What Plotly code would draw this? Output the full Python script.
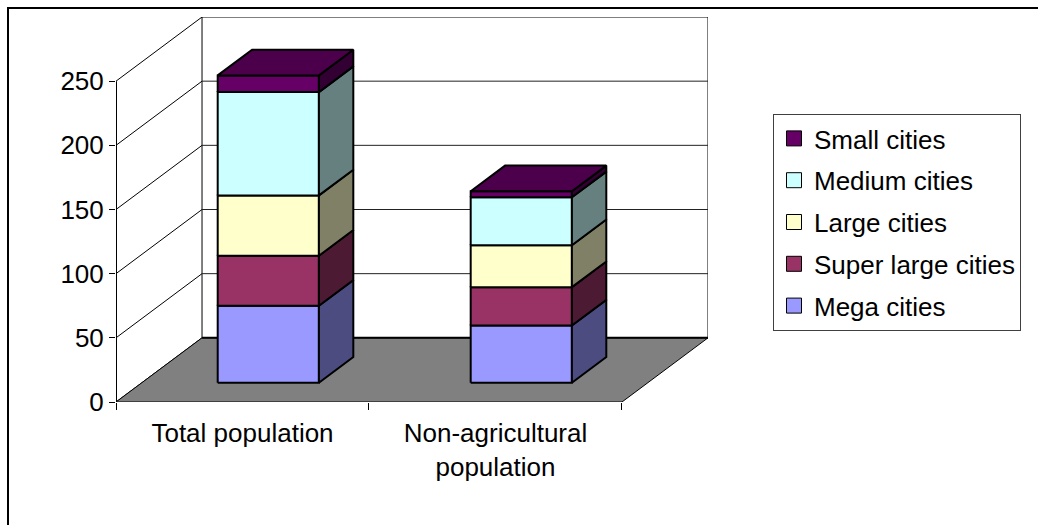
import plotly.graph_objects as go

# Urban population by city size class (millions)
categories = ["Total population", "Non-agricultural<br>population"]
series_names = ["Mega cities", "Super large cities", "Large cities", "Medium cities", "Small cities"]
mega_cities = [60.0, 44.6]
super_large_cities = [39.0, 29.9]
large_cities = [47.0, 32.7]
medium_cities = [80.5, 37.3]
small_cities = [13.0, 4.7]
y_ticks = [0, 50, 100, 150, 200, 250]

series_values = [mega_cities, super_large_cities, large_cities, medium_cities, small_cities]
front_colors = ["#9999FF", "#993366", "#FFFFCC", "#CCFFFF", "#660066"]
side_colors = ["#4C4C80", "#4D1A33", "#808066", "#668080", "#330033"]
top_colors = ["#7373BF", "#73264D", "#BFBF99", "#99BFBF", "#4C004C"]

# Oblique depth vector (in axis units) and bar geometry
DX, DY = 0.34, 50.0
HALF_W = 0.2
F_FRONT, F_BACK = 0.3, 0.7
Y_MAX = 250

# Plot area in pixels
W, H = 1038, 525
L, R, T, B = 116, 330, 17, 123
PW, PH = W - L - R, H - T - B


def px_to_paper(px, py):
    return (px - L) / PW, (H - B - py) / PH


def poly(xs, ys):
    return list(xs) + [xs[0]], list(ys) + [ys[0]]


fig = go.Figure()


def add_poly(xs, ys, fill, line_color="black", width=1):
    px, py = poly(xs, ys)
    fig.add_trace(go.Scatter(
        x=px, y=py, mode="lines", fill="toself", fillcolor=fill,
        line=dict(color=line_color, width=width), hoverinfo="skip",
        showlegend=False,
    ))


def add_line(xs, ys, color="black", width=1):
    fig.add_trace(go.Scatter(
        x=xs, y=ys, mode="lines", line=dict(color=color, width=width),
        hoverinfo="skip", showlegend=False,
    ))


x_left, x_right = -0.5, len(categories) - 0.5

# Back wall
add_poly([x_left + DX, x_right + DX, x_right + DX, x_left + DX],
         [DY, DY, Y_MAX + DY, Y_MAX + DY], "white", width=1)
for v in y_ticks[1:-1]:
    add_line([x_left + DX, x_right + DX], [v + DY, v + DY], color="#222222", width=1)

# Side wall: diagonal grid lines and front axis line
for v in y_ticks:
    add_line([x_left, x_left + DX], [v, v + DY], width=1)
add_line([x_left, x_left], [0, Y_MAX], width=2)

# Floor
add_poly([x_left, x_right, x_right + DX, x_left + DX], [0, 0, DY, DY], "#808080", width=1)
add_line([x_left + DX, x_right + DX], [DY, DY], width=2)

# Stacked 3D bars
for i in range(len(categories)):
    base = 0.0
    n = len(series_values)
    for s in range(n):
        top = base + series_values[s][i]
        x0, x1 = i - HALF_W, i + HALF_W
        fx0, fx1 = x0 + F_FRONT * DX, x1 + F_FRONT * DX
        bx0, bx1 = x0 + F_BACK * DX, x1 + F_BACK * DX
        fb, ft = base + F_FRONT * DY, top + F_FRONT * DY
        bb, bt = base + F_BACK * DY, top + F_BACK * DY
        add_poly([fx0, fx1, fx1, fx0], [fb, fb, ft, ft], front_colors[s], width=2)
        add_poly([fx1, bx1, bx1, fx1], [fb, bb, bt, ft], side_colors[s], width=2)
        if s == n - 1:
            add_poly([fx0, fx1, bx1, bx0], [ft, ft, bt, bt], top_colors[s], width=2)
        base = top

# Legend entries, top of the stack listed first
for s in reversed(range(len(series_names))):
    fig.add_trace(go.Scatter(
        x=[None], y=[None], mode="markers", name=series_names[s],
        legendgroup=series_names[s],
        marker=dict(symbol="square", size=15, color=front_colors[s],
                    line=dict(color="black", width=1)),
    ))

# Category boundary ticks on a second x axis
fig.add_trace(go.Scatter(x=[None], y=[None], xaxis="x2", showlegend=False, hoverinfo="skip"))

font = dict(family="Liberation Sans, Arial, sans-serif", size=26, color="black")

lx, ly = px_to_paper(773, 114)
bx0, by0 = px_to_paper(8, 8)

fig.update_layout(
    width=W, height=H,
    margin=dict(l=L, r=R, t=T, b=B, pad=0),
    paper_bgcolor="white", plot_bgcolor="white",
    font=font,
    template="none",
    xaxis=dict(range=[x_left, x_right + DX], tickvals=list(range(len(categories))),
               ticktext=categories, ticks="", showgrid=False, zeroline=False,
               showline=False, automargin=False, tickfont=font, fixedrange=True,
               ticklabelstandoff=13),
    xaxis2=dict(range=[x_left, x_right + DX], overlaying="x", anchor="y", side="bottom",
                tickvals=[x_left + k for k in range(len(categories) + 1)],
                ticktext=[""] * (len(categories) + 1), ticks="outside", ticklen=7,
                tickcolor="black", tickwidth=1, showgrid=False, zeroline=False,
                showline=False, automargin=False, fixedrange=True),
    yaxis=dict(range=[0, Y_MAX + DY], tickvals=y_ticks, ticks="outside", ticklen=6,
               tickcolor="black", tickwidth=1, showgrid=False, zeroline=False,
               showline=False, automargin=False, tickfont=font, fixedrange=True),
    legend=dict(x=lx, y=ly, xanchor="left", yanchor="top", bordercolor="#404040",
                borderwidth=1, bgcolor="white",
                font=dict(family=font["family"], size=26, color="black"),
                traceorder="grouped", tracegroupgap=5, itemwidth=30),
    shapes=[dict(type="rect", xref="paper", yref="paper", x0=bx0, y0=by0, x1=2.0, y1=-1.0,
                 line=dict(color="black", width=2), fillcolor="rgba(0,0,0,0)", layer="above")],
    showlegend=True,
)

fig.write_html("out.html")
